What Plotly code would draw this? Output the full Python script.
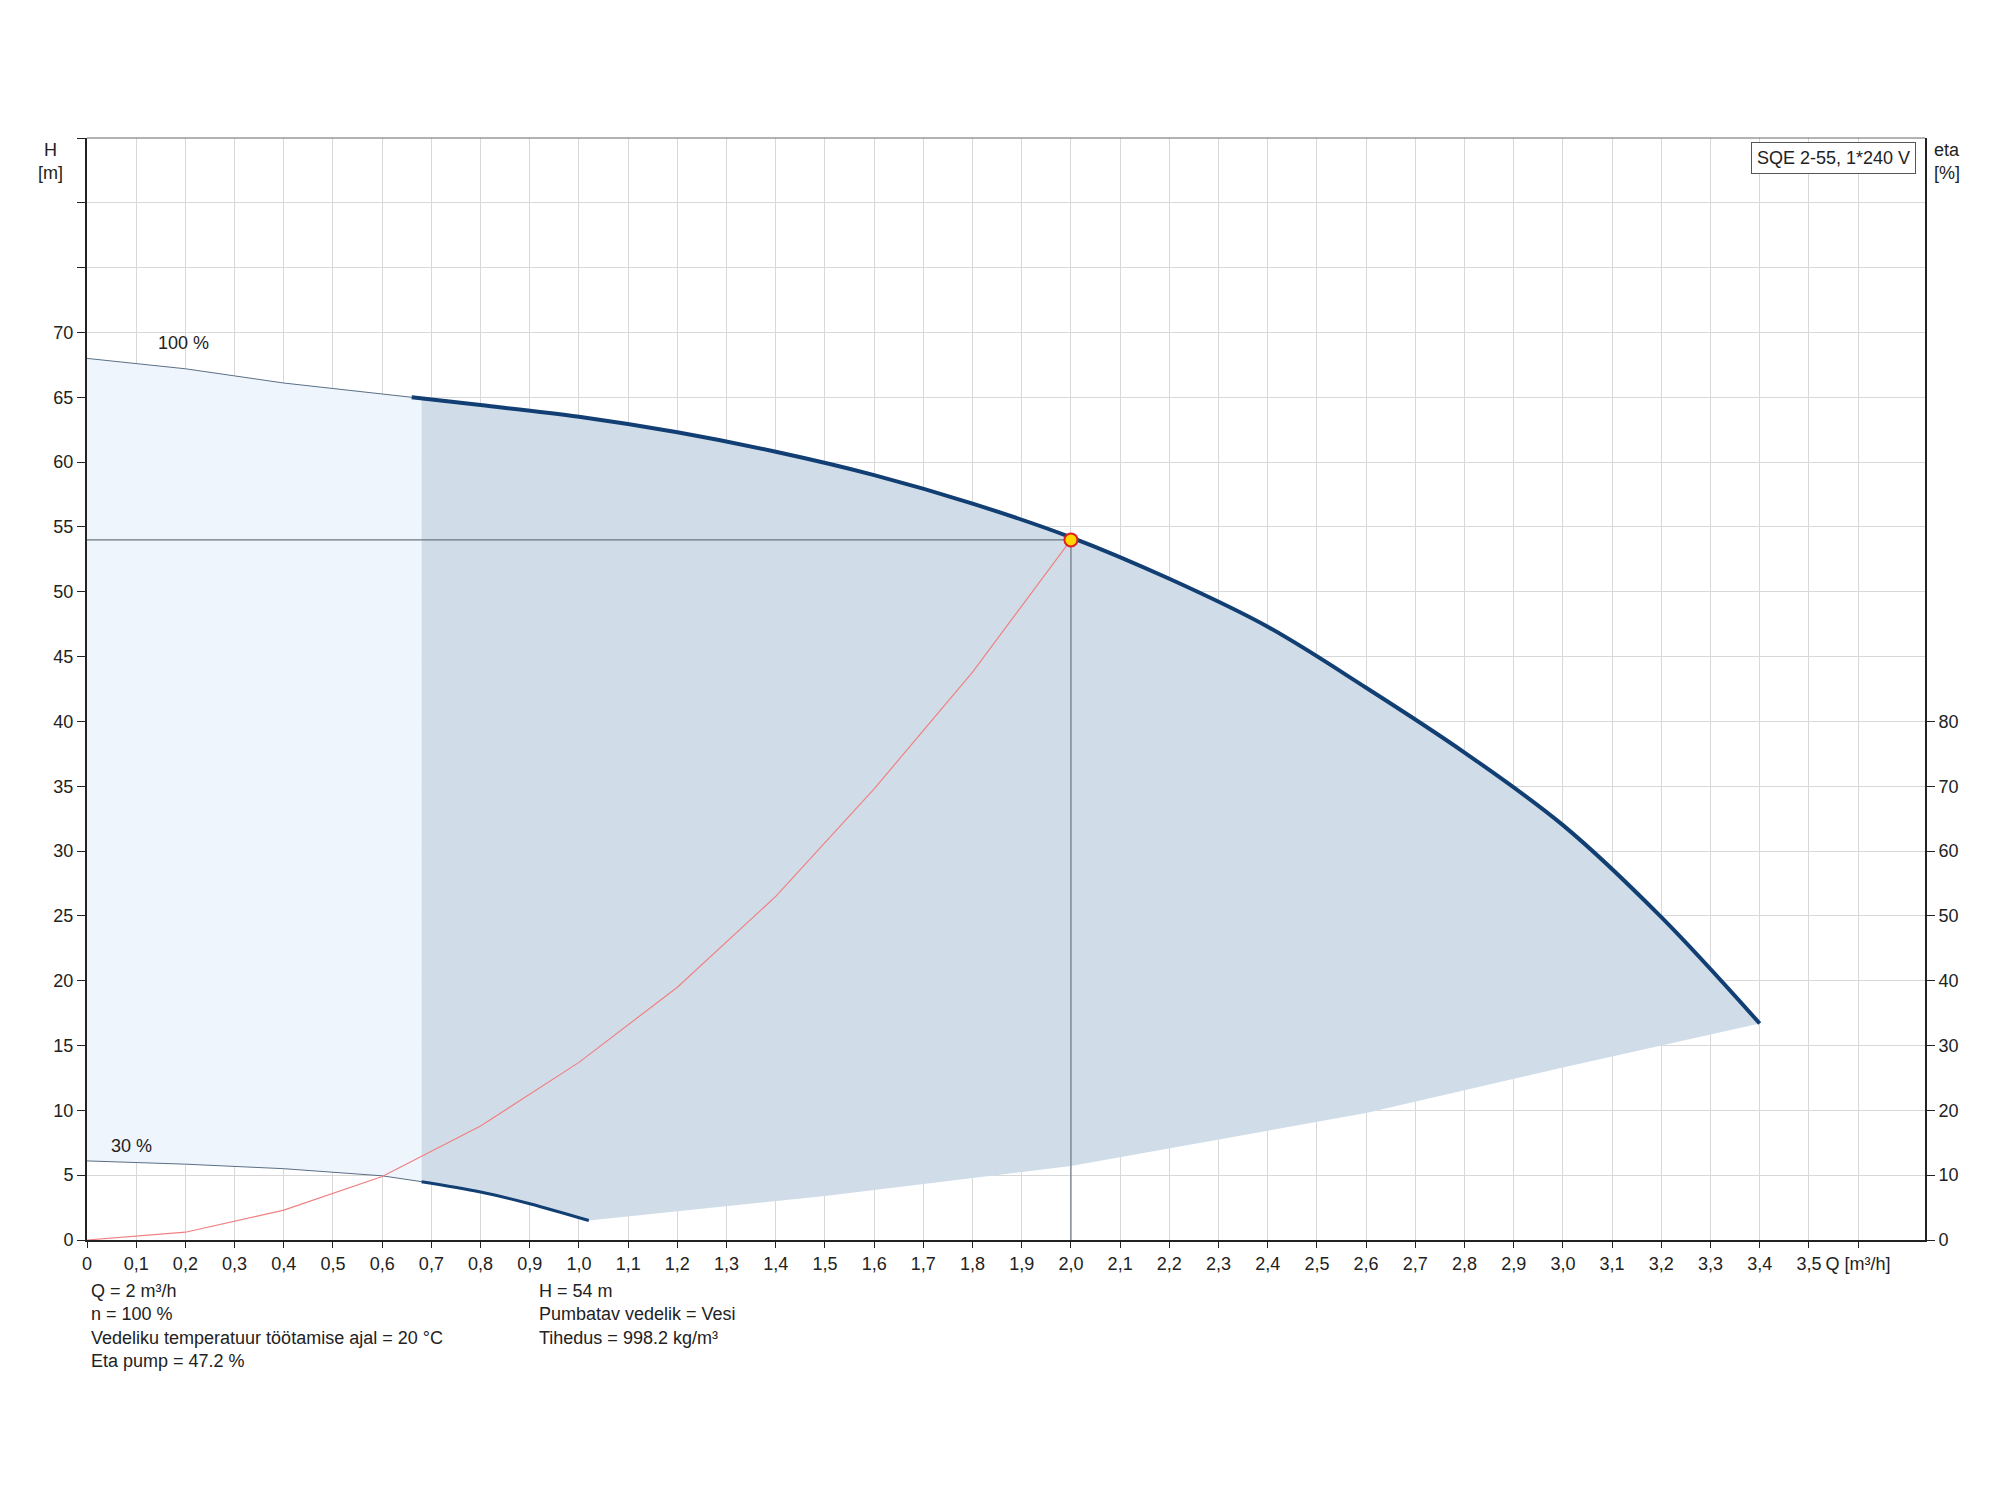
import plotly.graph_objects as go

q100 = [0, 0.2, 0.4, 0.66, 0.8, 1.0, 1.2, 1.4, 1.6, 1.8, 2.0, 2.2, 2.4, 2.6, 2.8, 3.0, 3.2, 3.4]
h100 = [68, 67.2, 66.1, 65, 64.4, 63.5, 62.3, 60.8, 59.0, 56.8, 54.2, 51.0, 47.3, 42.6, 37.6, 32.0, 24.9, 16.7]
q30 = [0, 0.2, 0.4, 0.6, 0.68, 0.8, 0.9, 1.02]
h30 = [6.1, 5.85, 5.5, 4.95, 4.5, 3.7, 2.8, 1.5]
qlow = [1.02, 1.5, 2.0, 2.6, 3.0, 3.4]
hlow = [1.5, 3.4, 5.7, 9.8, 13.3, 16.7]
qsys = [0, 0.2, 0.4, 0.6, 0.8, 1.0, 1.2, 1.4, 1.6, 1.8, 2.0]
hsys = [0, 0.6, 2.3, 4.9, 8.8, 13.7, 19.5, 26.5, 34.8, 43.8, 54.0]
duty_q, duty_h = 2.0, 54.0
xticks = [round(i * 0.1, 1) for i in range(37)]
xlabels = [str(v).replace('.', ',') if v != 0 else '0' for v in xticks[:36]] + ['Q [m³/h]']
yticks = list(range(0, 90, 5))
ylabels = [str(v) if v <= 70 else '' for v in yticks]
etaticks = list(range(0, 90, 10))

split = 0.68
def interp(xs, ys, x):
    for i in range(len(xs) - 1):
        if xs[i] <= x <= xs[i + 1]:
            t = (x - xs[i]) / (xs[i + 1] - xs[i])
            return ys[i] + t * (ys[i + 1] - ys[i])
    return ys[-1]

h100s = interp(q100, h100, split)
h30s = interp(q30, h30, split)

fig = go.Figure()
# light region
lx = [q for q in q100 if q < split] + [split, split] + [q for q in reversed(q30) if q < split]
ly = [h for q, h in zip(q100, h100) if q < split] + [h100s, h30s] + [h for q, h in zip(reversed(q30), reversed(h30)) if q < split]
fig.add_trace(go.Scatter(x=lx, y=ly, fill='toself', fillcolor='#eef5fd', line=dict(width=0), mode='lines', hoverinfo='skip'))
# dark region
dx = [split] + [q for q in q100 if q > split] + list(reversed(qlow))[1:] + [q for q in reversed(q30) if q > split] + [split]
dy = [h100s] + [h for q, h in zip(q100, h100) if q > split] + list(reversed(hlow))[1:] + [h for q, h in zip(reversed(q30), reversed(h30)) if q > split] + [h30s]
fig.add_trace(go.Scatter(x=dx, y=dy, fill='toself', fillcolor='#d0dde9', line=dict(width=0), mode='lines', hoverinfo='skip'))
# thin parts
fig.add_trace(go.Scatter(x=[q for q in q100 if q <= 0.66], y=[h for q, h in zip(q100, h100) if q <= 0.66], mode='lines', line=dict(color='#5a6f85', width=1)))
fig.add_trace(go.Scatter(x=[q for q in q30 if q <= split], y=[h for q, h in zip(q30, h30) if q <= split], mode='lines', line=dict(color='#5a6f85', width=1)))
# thick parts
fig.add_trace(go.Scatter(x=[q for q in q100 if q >= 0.66], y=[h for q, h in zip(q100, h100) if q >= 0.66], mode='lines', line=dict(color='#123f73', width=4, shape='spline')))
fig.add_trace(go.Scatter(x=[q for q in q30 if q >= split], y=[h for q, h in zip(q30, h30) if q >= split], mode='lines', line=dict(color='#123f73', width=3, shape='spline')))
# crosshair
fig.add_trace(go.Scatter(x=[0, duty_q, duty_q], y=[duty_h, duty_h, 0], mode='lines', line=dict(color='#6b7580', width=1.2)))
# system curve
fig.add_trace(go.Scatter(x=qsys, y=hsys, mode='lines', line=dict(color='#f08080', width=1.2)))
fig.add_trace(go.Scatter(x=[duty_q], y=[duty_h], mode='markers', marker=dict(color='#ffd700', size=13, line=dict(color='#e02020', width=2))))
# dummy for y2
fig.add_trace(go.Scatter(x=[0], y=[0], yaxis='y2', mode='markers', marker=dict(opacity=0), hoverinfo='skip'))

fnt = dict(family='Liberation Sans, Arial', size=18, color='#222')
fig.update_layout(
    width=2000, height=1500, paper_bgcolor='white', plot_bgcolor='white', showlegend=False,
    margin=dict(l=79, r=83, t=130, b=268), font=fnt,
    xaxis=dict(range=[0, 3.736], tickvals=xticks, ticktext=xlabels, showgrid=True, gridcolor='#d8d8d8',
               showline=True, linecolor='#222', linewidth=2, ticks='outside', ticklen=6, tickcolor='#222', zeroline=False,
               mirror=False),
    yaxis=dict(range=[0, 85], tickvals=yticks, ticktext=ylabels, showgrid=True, gridcolor='#d8d8d8',
               showline=True, linecolor='#222', linewidth=2, ticks='outside', ticklen=8, tickcolor='#222', zeroline=False),
    yaxis2=dict(range=[0, 170], overlaying='y', side='right', tickvals=etaticks, showgrid=False,
                showline=True, linecolor='#222', linewidth=2, ticks='outside', ticklen=8, tickcolor='#222', zeroline=False),
)
fig.add_shape(type='line', xref='paper', yref='paper', x0=0, x1=1, y0=1, y1=1, line=dict(color='#666', width=1))
ann = [
    dict(x=-0.012, y=1.0, xref='paper', yref='paper', text='H<br>[m]', xanchor='right', yanchor='top', align='center'),
    dict(x=1.004, y=1.0, xref='paper', yref='paper', text='eta<br>[%]', xanchor='left', yanchor='top', align='left'),
    dict(x=0.995, y=0.996, xref='paper', yref='paper', text='SQE 2-55, 1*240 V', xanchor='right', yanchor='top',
         bordercolor='#555', borderwidth=1, bgcolor='white', borderpad=5),
    dict(x=0.14, y=68.3, text='100 %', xanchor='left', yanchor='bottom'),
    dict(x=0.045, y=6.3, text='30 %', xanchor='left', yanchor='bottom'),
    dict(x=0.001, y=-0.035, xref='paper', yref='paper', align='left', xanchor='left', yanchor='top',
         text='Q = 2 m³/h<br>n = 100 %<br>Vedeliku temperatuur töötamise ajal = 20 °C<br>Eta pump = 47.2 %'),
    dict(x=0.245, y=-0.035, xref='paper', yref='paper', align='left', xanchor='left', yanchor='top',
         text='H = 54 m<br>Pumbatav vedelik = Vesi<br>Tihedus = 998.2 kg/m³'),
]
for a in ann:
    a['showarrow'] = False
    a['font'] = fnt
    fig.add_annotation(**a)
fig.write_html('out.html')
